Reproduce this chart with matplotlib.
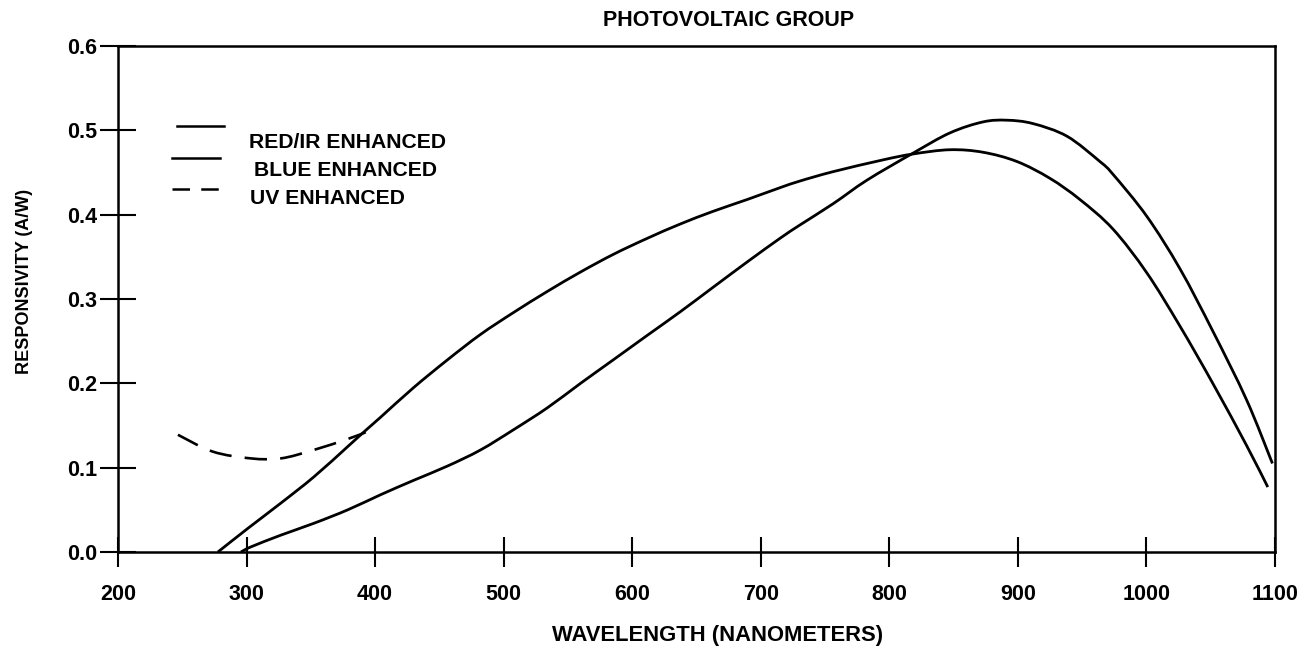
import matplotlib.pyplot as plt
from matplotlib.lines import Line2D
from matplotlib.path import Path
from matplotlib.patches import PathPatch

plt.rcParams['font.family'] = ['Liberation Sans', 'DejaVu Sans']
plt.rcParams['font.weight'] = 'bold'

# values (wavelength nm, responsivity A/W)
blue_wl = [277.7, 301, 326.7, 352.3, 378.7, 391, 404.4, 430, 456.4, 482, 507.7, 534,
           559.8, 585.4, 611.8, 637.5, 663, 689.5, 715, 730.7, 756.3, 795.2, 818.5,
           847.2, 872.9, 899.3, 925, 948.2, 973.9, 1000.3, 1026, 1051.6, 1078, 1094.4]
blue_resp = [0.0, 0.028, 0.058, 0.089, 0.125, 0.142, 0.160, 0.195, 0.228, 0.258, 0.284, 0.309,
             0.332, 0.353, 0.372, 0.389, 0.404, 0.418, 0.432, 0.440, 0.451, 0.465, 0.472,
             0.477, 0.474, 0.463, 0.443, 0.418, 0.383, 0.331, 0.268, 0.200, 0.126, 0.077]

red_wl = [295.6, 303.3, 326.7, 352.3, 378.7, 404.4, 430, 456.4, 482, 507.7, 534, 559.8,
          585.4, 611.8, 637.5, 663, 689.5, 715, 730.7, 756.3, 782.7, 818.5, 847.2, 872.9,
          891.5, 911.7, 938.2, 963.8, 973.9, 1000.3, 1026, 1051.6, 1078, 1098]
red_resp = [0.0, 0.006, 0.020, 0.034, 0.050, 0.068, 0.085, 0.102, 0.121, 0.145, 0.171, 0.200,
            0.228, 0.257, 0.285, 0.314, 0.344, 0.372, 0.388, 0.413, 0.441, 0.473, 0.497, 0.510,
            0.512, 0.508, 0.493, 0.463, 0.448, 0.398, 0.336, 0.262, 0.180, 0.105]

uv_wl = [246.6, 273.8, 303.3, 326.7, 352.3, 378.7, 392.7]
uv_resp = [0.139, 0.119, 0.111, 0.111, 0.121, 0.134, 0.142]

x_ticks = [200, 300, 400, 500, 600, 700, 800, 900, 1000, 1100]
y_ticks = [0.0, 0.1, 0.2, 0.3, 0.4, 0.5, 0.6]


def smooth_path(xs, ys):
    # run a cubic bezier through every read point (catmull-rom style handles)
    pts = list(zip(xs, ys))
    verts = [pts[0]]
    codes = [Path.MOVETO]
    for i in range(len(pts) - 1):
        p0 = pts[i - 1] if i > 0 else pts[i]
        p1 = pts[i]
        p2 = pts[i + 1]
        p3 = pts[i + 2] if i + 2 < len(pts) else pts[i + 1]
        c1 = (p1[0] + (p2[0] - p0[0]) / 6, p1[1] + (p2[1] - p0[1]) / 6)
        c2 = (p2[0] - (p3[0] - p1[0]) / 6, p2[1] - (p3[1] - p1[1]) / 6)
        verts += [c1, c2, p2]
        codes += [Path.CURVE4] * 3
    return Path(verts, codes)


W, H = 1301, 657
fig = plt.figure(figsize=(W / 100, H / 100), dpi=100)
ax = fig.add_axes([118 / W, 1 - 552 / H, (1275 - 118) / W, (552 - 46) / H])

ax.add_patch(PathPatch(smooth_path(red_wl, red_resp), fill=False, ec='black', lw=2.0))
ax.add_patch(PathPatch(smooth_path(blue_wl, blue_resp), fill=False, ec='black', lw=2.0))
ax.add_patch(PathPatch(smooth_path(uv_wl, uv_resp), fill=False, ec='black', lw=1.9,
                       linestyle=(0, (8.5, 5.0))))

ax.set_xlim(200, 1100)
ax.set_ylim(0, 0.6)
ax.set_xticks(x_ticks)
ax.set_yticks(y_ticks)
ax.set_yticklabels(['%.1f' % v for v in y_ticks])

for s in ax.spines.values():
    s.set_linewidth(1.8)
ax.tick_params(axis='x', direction='inout', length=21.6, width=1.5, pad=12, labelsize=15.5)
ax.tick_params(axis='y', direction='inout', length=26.6, width=1.5, pad=1.5, labelsize=15.5)

# title and axis labels
fig.text(729 / W, 1 - 21 / H, 'PHOTOVOLTAIC GROUP', ha='center', va='center',
         fontsize=15.5, fontweight='bold')
fig.text(718 / W, 1 - 635 / H, 'WAVELENGTH (NANOMETERS)', ha='center', va='center',
         fontsize=15.8, fontweight='bold')
fig.text(25 / W, 1 - 281 / H, 'RESPONSIVITY (A/W)', ha='center', va='center',
         rotation=90, fontsize=13, fontweight='bold')

# hand-placed key, as in the original
key = [((177, 224, 126), (249, 143), 'RED/IR ENHANCED', '-'),
       ((172, 220, 158), (254, 171), 'BLUE ENHANCED', '-'),
       ((172, 220, 189), (250, 198), 'UV ENHANCED', '--')]
for (x0, x1, y), (tx, ty), label, ls in key:
    ln = Line2D([x0 / W, x1 / W], [1 - y / H, 1 - y / H], transform=fig.transFigure,
                color='black', lw=1.8)
    if ls == '--':
        ln.set_dashes((7, 4.5))
    fig.add_artist(ln)
    fig.text(tx / W, 1 - ty / H, label, ha='left', va='center', fontsize=15.2,
             fontweight='bold')

fig.savefig('out.png', dpi=100)
